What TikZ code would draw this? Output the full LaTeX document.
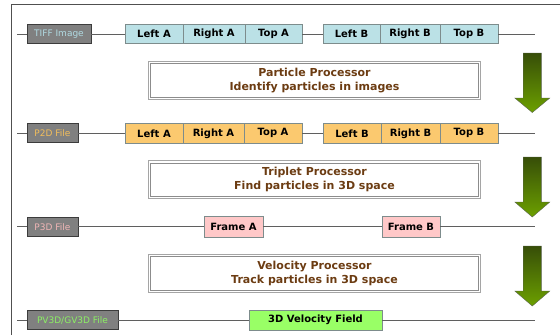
\documentclass[tikz,border=0pt]{standalone}
\usepackage{fontspec}
\setmainfont{DejaVu Sans}

\definecolor{framecol}{RGB}{80,80,80}
\definecolor{wirecol}{RGB}{95,95,95}
\definecolor{cellline}{RGB}{125,140,140}
\definecolor{taggray}{RGB}{128,128,128}
\definecolor{tagline}{RGB}{60,60,60}
\definecolor{procouter}{RGB}{165,165,165}
\definecolor{procinner}{RGB}{140,140,140}
\definecolor{proctext}{RGB}{108,60,18}
\definecolor{cellblue}{RGB}{187,225,230}
\definecolor{cellorange}{RGB}{251,201,111}
\definecolor{cellpink}{RGB}{255,200,200}
\definecolor{cellgreen}{RGB}{153,255,102}
\definecolor{tifftext}{RGB}{176,218,226}
\definecolor{p2dtext}{RGB}{242,190,92}
\definecolor{p3dtext}{RGB}{240,182,182}
\definecolor{pv3dtext}{RGB}{140,240,100}
\definecolor{flowtop}{RGB}{55,78,8}
\definecolor{flowbottom}{RGB}{108,160,0}
\definecolor{flowline}{RGB}{90,100,80}

\begin{document}
\begin{tikzpicture}[x=1pt,y=-1pt,
  cell/.style={draw=cellline, line width=0.6pt, minimum height=19.5pt,
    inner sep=0pt, outer sep=0pt, anchor=west,
    font=\bfseries\fontsize{10}{12}\selectfont, text=black},
  tag/.style={draw=tagline, fill=taggray, line width=0.7pt,
    minimum height=19pt, inner sep=0pt, outer sep=0pt, anchor=west,
    font=\fontsize{9}{11}\selectfont},
  proc/.style={draw=procouter, line width=0.8pt, fill=white,
    minimum width=332pt, minimum height=38pt,
    inner sep=0pt, outer sep=0pt, align=center, text=proctext,
    font=\bfseries\fontsize{11}{14.5}\selectfont},
  procrule/.style={draw=procinner, line width=0.7pt},
  wire/.style={draw=wirecol, line width=0.8pt},
  flow/.style={top color=flowtop, bottom color=flowbottom,
    draw=flowline, line width=0.4pt}]

\useasboundingbox (0,0) rectangle (560,335);

% outer frame (only top and left edges fall inside the page)
\draw[framecol, line width=1pt] (11.5,335) -- (11.5,4.5) -- (560,4.5);

% ---- row 1: TIFF images
\node[tag, minimum width=64pt, text=tifftext] (tiff) at (27,34) {TIFF Image};
\node[cell, fill=cellblue, minimum width=58pt] (r1la) at (125,34) {Left A};
\node[cell, fill=cellblue, minimum width=62pt] (r1ra) at (r1la.east) {Right A};
\node[cell, fill=cellblue, minimum width=57pt] (r1ta) at (r1ra.east) {Top A};
\node[cell, fill=cellblue, minimum width=57pt] (r1lb) at (323,34) {Left B};
\node[cell, fill=cellblue, minimum width=60pt] (r1rb) at (r1lb.east) {Right B};
\node[cell, fill=cellblue, minimum width=58pt] (r1tb) at (r1rb.east) {Top B};
\coordinate (r1s) at (17,34);
\coordinate (r1e) at (535,34);
\draw[wire] (r1s) -- (tiff.west) (tiff.east) -- (r1la.west)
  (r1ta.east) -- (r1lb.west) (r1tb.east) -- (r1e);

% ---- processor boxes (double outline: outer node border + inner rule)
\node[proc] (pp) at (314.5,80.5) {Particle Processor\\Identify particles in images};
\node[proc] (tp) at (314.5,179.7) {Triplet Processor\\Find particles in 3D space};
\node[proc] (vp) at (314.5,273.3) {Velocity Processor\\Track particles in 3D space};
\foreach \p in {pp,tp,vp}{
  \draw[procrule] ([shift={(2.2,2.2)}]\p.north west) rectangle ([shift={(-2.2,-2.2)}]\p.south east);
}

% ---- row 2: P2D files
\node[tag, minimum width=51pt, text=p2dtext] (p2d) at (27,133.3) {P2D File};
\node[cell, fill=cellorange, minimum width=58pt, minimum height=20pt] (r2la) at (125,133.3) {Left A};
\node[cell, fill=cellorange, minimum width=61pt, minimum height=20pt] (r2ra) at (r2la.east) {Right A};
\node[cell, fill=cellorange, minimum width=58pt, minimum height=20pt] (r2ta) at (r2ra.east) {Top A};
\node[cell, fill=cellorange, minimum width=58pt, minimum height=20pt] (r2lb) at (323,133.3) {Left B};
\node[cell, fill=cellorange, minimum width=59pt, minimum height=20pt] (r2rb) at (r2lb.east) {Right B};
\node[cell, fill=cellorange, minimum width=58pt, minimum height=20pt] (r2tb) at (r2rb.east) {Top B};
\coordinate (r2s) at (17,133.3);
\coordinate (r2e) at (535,133.3);
\draw[wire] (r2s) -- (p2d.west) (p2d.east) -- (r2la.west)
  (r2ta.east) -- (r2lb.west) (r2tb.east) -- (r2e);

% ---- row 3: P3D files
\node[tag, minimum width=51pt, text=p3dtext] (p3d) at (27,226.8) {P3D File};
\node[cell, fill=cellpink, minimum width=59pt, minimum height=20.5pt] (fra) at (204,226.8) {Frame A};
\node[cell, fill=cellpink, minimum width=58pt, minimum height=20.5pt] (frb) at (382,226.8) {Frame B};
\coordinate (r3s) at (17,226.8);
\coordinate (r3e) at (535,226.8);
\draw[wire] (r3s) -- (p3d.west) (p3d.east) -- (fra.west)
  (fra.east) -- (frb.west) (frb.east) -- (r3e);

% ---- row 4: velocity field files
\node[tag, minimum width=91pt, text=pv3dtext] (pv3d) at (27,320) {PV3D/GV3D File};
\node[cell, fill=cellgreen, minimum width=133pt, minimum height=20pt] (vel) at (249,320) {3D Velocity Field};
\coordinate (r4s) at (17,320);
\coordinate (r4e) at (535,320);
\draw[wire] (r4s) -- (pv3d.west) (pv3d.east) -- (vel.west) (vel.east) -- (r4e);

% ---- downward flow arrows on the right
\foreach \t/\b/\tip in {53/98/112.5, 157/202/217, 246/291/306}{
  \draw[flow] (523.2,\t) -- (541.4,\t) -- (541.4,\b) -- (549.8,\b)
    -- (532.3,\tip) -- (514.8,\b) -- (523.2,\b) -- cycle;
}
\end{tikzpicture}
\end{document}
